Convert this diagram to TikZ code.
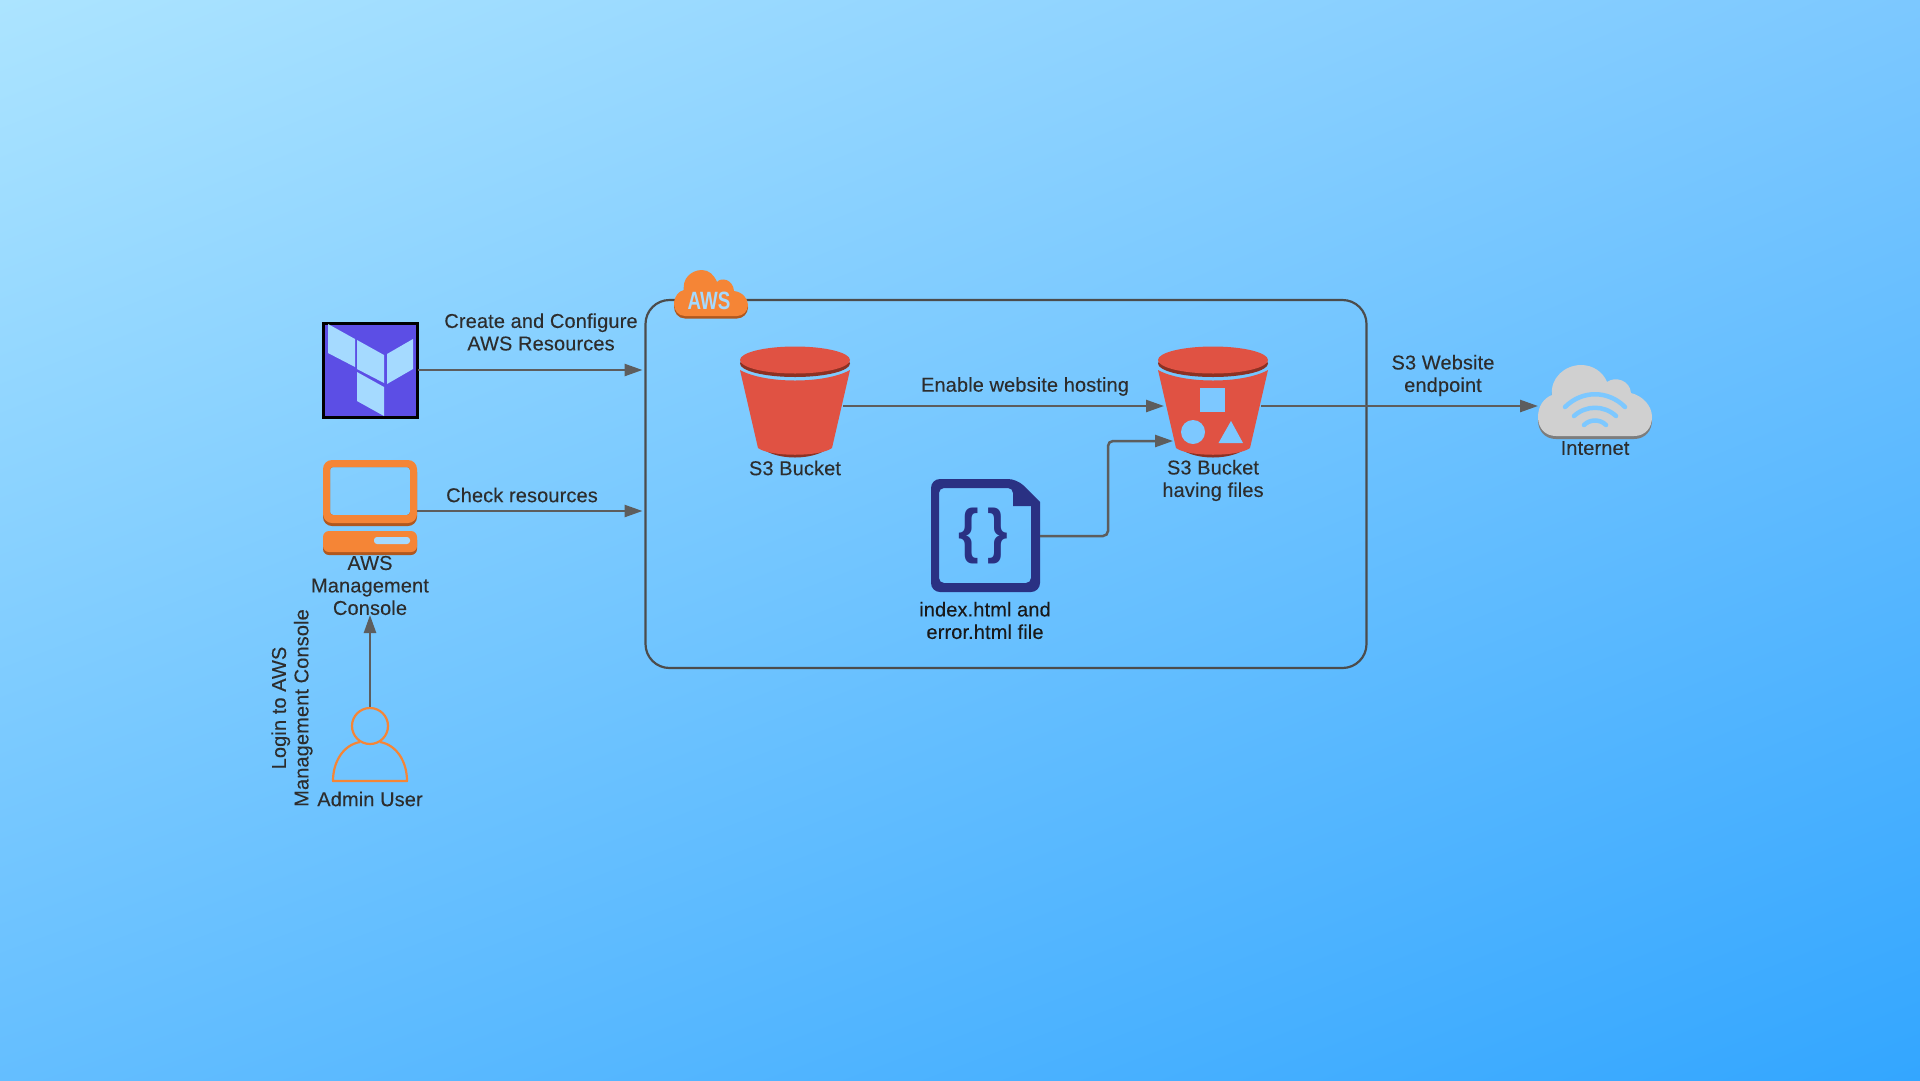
\documentclass[tikz,border=0pt]{standalone}
\usepackage{fontspec}
\setmainfont{Liberation Sans}
\newfontfamily\lblfont{Liberation Sans}[FakeBold=0.12,LetterSpace=0.6]
\usetikzlibrary{arrows.meta,positioning,calc,shadings}
\definecolor{bgtl}{RGB}{172,228,255}
\definecolor{bgtr}{RGB}{124,200,255}
\definecolor{bgbl}{RGB}{100,190,255}
\definecolor{bgbr}{RGB}{51,166,255}
\definecolor{awsorange}{RGB}{245,133,54}
\definecolor{awsorangedark}{RGB}{176,88,30}
\definecolor{bucketred}{RGB}{224,82,67}
\definecolor{bucketdark}{RGB}{140,49,35}
\definecolor{tfpurple}{RGB}{92,78,229}
\definecolor{tflight}{RGB}{165,218,255}
\definecolor{filenavy}{RGB}{42,49,131}
\definecolor{cloudgray}{RGB}{208,208,208}
\definecolor{cloudedge}{RGB}{125,125,125}
\definecolor{wirelight}{RGB}{125,200,255}
\definecolor{linegray}{RGB}{85,85,85}
\definecolor{textgray}{RGB}{45,45,45}
\tikzset{
    lbl/.style={font=\lblfont\fontsize{20}{22.5}\selectfont, text=textgray, align=center, inner sep=0pt},
    flow/.style={draw=linegray!95!white, line width=2.5pt, rounded corners=5pt,
        -{Triangle[length=18pt,width=12pt,fill=linegray!95!white]}},
    hitbox/.style={inner sep=0pt, outer sep=0pt, minimum height=10pt}
}
\begin{document}
\begin{tikzpicture}[x=1pt,y=-1pt]
    % --- background ---
    \useasboundingbox (0,0) rectangle (1920,1080);
    \shade[upper left=bgtl, lower right=bgbr, upper right=bgtr, lower left=bgbl] (0,0) rectangle (1920,1080);

    % --- AWS frame ---
    \node[draw=linegray!90!black, line width=2.2pt, rounded corners=24pt, inner sep=0pt, outer sep=0pt,
        minimum width=721pt, minimum height=368pt] (awsbox) at (1006,484) {};

    % --- terraform mark ---
    \node[draw=black, fill=tfpurple, line width=3pt, inner sep=0pt, outer sep=0pt, minimum size=94pt] (tfmark) at (370.5,370) {};
    \fill[tflight] (328,324) -- (355,339) -- (355,367) -- (328,353) -- cycle;
    \fill[tflight] (357,340) -- (384,355) -- (384,383) -- (357,369) -- cycle;
    \fill[tflight] (387,354) -- (413,339) -- (413,369) -- (387,384) -- cycle;
    \fill[tflight] (357,372) -- (384,387) -- (384,416) -- (357,401) -- cycle;

    % --- console ---
    \fill[awsorangedark, even odd rule, rounded corners=9pt] (323,463) rectangle (417,526)
        [rounded corners=3pt] (330,467) rectangle (410,515);
    \fill[awsorange, even odd rule, rounded corners=9pt] (323,460) rectangle (417,523)
        [rounded corners=3pt] (330,467) rectangle (410,515);
    \fill[awsorangedark, rounded corners=6pt] (323,534) rectangle (417,555);
    \fill[awsorange, rounded corners=6pt] (323,531) rectangle (417,552);
    \fill[tflight, rounded corners=3pt] (374,537) rectangle (410,544);
    \node[hitbox, minimum width=94pt] (console) at (370,511) {};
    \node[lbl] (consolelbl) at (370,585.5) {AWS\\Management\\Console};
    \coordinate (consolein) at (370,615);

    % --- admin user ---
    \draw[awsorange, line width=2.2pt] (370,726) circle (18);
    \draw[awsorange, line width=2.2pt, line join=round] (360,742) .. controls (343,745) and (333,762) .. (333,781)
        -- (407,781) .. controls (407,762) and (397,745) .. (380,742);
    \node[hitbox, minimum width=74pt, minimum height=74pt] (admin) at (370,744) {};
    \node[lbl] (adminlbl) at (370,799) {Admin User};
    \node[lbl, rotate=90] (loginlbl) at (292,708) {Login to AWS\\Management Console};

    % --- buckets ---
    \foreach \bx in {795,1213}{
        \begin{scope}[shift={(\bx,0)}]
            \fill[bucketdark] (-37,444) .. controls (-25,462) and (25,462) .. (37,444) -- cycle;
            \fill[bucketred] (-55,370) .. controls (-30,384) and (30,384) .. (55,370)
                -- (37,448) .. controls (25,457) and (-25,457) .. (-37,448) -- cycle;
            \fill[bucketdark] (0,363.5) ellipse (55 and 13.5);
            \fill[bucketred] (0,360) ellipse (55 and 13.5);
        \end{scope}
    }
    \fill[wirelight] (1200,388) rectangle (1225,412);
    \fill[wirelight] (1193,432) circle (12);
    \fill[wirelight] (1231,421) -- (1243,443) -- (1218.5,443) -- cycle;
    \node[hitbox, minimum width=96pt] (bucketa) at (795,406) {};
    \node[hitbox, minimum width=97pt] (bucketb) at (1212.5,406) {};
    \coordinate (bucketbin) at (1173,441);
    \node[lbl] (bucketalbl) at (795,468) {S3 Bucket};
    \node[lbl] (bucketblbl) at (1213,480.5) {S3 Bucket\\having files};

    % --- html file ---
    \fill[filenavy, even odd rule, rounded corners=9pt] (1040,502) -- (1040,592) -- (931,592) -- (931,479) -- (1017,479)
        [sharp corners] -- cycle
        [rounded corners=5pt] (1031,506) -- (1031,583) -- (939,583) -- (939,488) -- (1013,488)
        [sharp corners] -- (1013,506) -- cycle;
    \node[hitbox, minimum width=109pt, minimum height=113pt] (htmlfile) at (985.5,536) {};
    \node[inner sep=0pt, xscale=0.88, text=filenavy, font=\fontsize{60}{60}\bfseries\selectfont] (bracelbl) at (983,536) {\{\,\}};
    \node[lbl, text=black!90] (htmllbl) at (985,620.5) {index.html and\\error.html file};

    % --- internet ---
    \foreach \dy/\col in {3/cloudedge,0/cloudgray}{
        \fill[\col, shift={(0,\dy)}] (1556,436) .. controls (1545,436) and (1538,428) .. (1538,417)
            .. controls (1538,406) and (1544,398) .. (1552,395) .. controls (1550,378) and (1565,365) .. (1581,365)
            .. controls (1593,365) and (1603,372) .. (1607,382) .. controls (1615,376) and (1630,380) .. (1631,393)
            .. controls (1643,396) and (1652,406) .. (1652,417) .. controls (1652,428) and (1645,436) .. (1634,436) -- cycle;
    }
    \draw[wirelight, line width=4.5pt, line cap=round] (1565,407) .. controls (1582,390) and (1608,390) .. (1625,407);
    \draw[wirelight, line width=4.5pt, line cap=round] (1574,416) .. controls (1586,405) and (1604,405) .. (1616,416);
    \draw[wirelight, line width=4.5pt, line cap=round] (1584,425) .. controls (1590,419) and (1600,419) .. (1606,425);
    \node[hitbox, minimum width=114pt] (internet) at (1595,406) {};
    \node[lbl] (internetlbl) at (1595,448) {Internet};

    % --- connectors ---
    \draw[flow, shorten >=3pt] (tfmark.east) -- (tfmark.east -| awsbox.west);
    \draw[flow, shorten >=3pt] (console.east) -- (console.east -| awsbox.west);
    \draw[flow] (admin.north) -- (consolein);
    \draw[flow] (bucketa.east) -- (bucketb.west);
    \draw[flow] (htmlfile.east) -| ($(bucketbin)+(-65,0)$) -- (bucketbin);
    \draw[flow] (bucketb.east) -- (internet.west);

    % --- connector labels ---
    \node[lbl] (createlbl) at (541,332) {Create and Configure\\AWS Resources};
    \node[lbl] (checklbl) at (522,495) {Check resources};
    \node[lbl] (enablelbl) at (1025,386.5) {Enable website hosting};
    \node[lbl] (endpointlbl) at (1443,375.5) {S3 Website\\endpoint};

    % --- AWS badge ---
    \foreach \dy/\col in {2.5/awsorangedark,0/awsorange}{
        \fill[\col, shift={(0,\dy)}] (685,316) .. controls (678,316) and (674,310) .. (674,304)
            .. controls (674,296) and (679,291) .. (684,290) .. controls (682,279) and (691,270) .. (702,270)
            .. controls (709,270) and (714,275) .. (717,282) .. controls (721,277) and (733,279) .. (734,291)
            .. controls (742,292) and (748,298) .. (748,305) .. controls (748,311) and (743,316) .. (737,316) -- cycle;
    }
    \node[inner sep=0pt, xscale=0.75, text=tflight, font=\fontsize{25}{25}\bfseries\selectfont] (awslbl) at (709,301) {AWS};
\end{tikzpicture}
\end{document}
